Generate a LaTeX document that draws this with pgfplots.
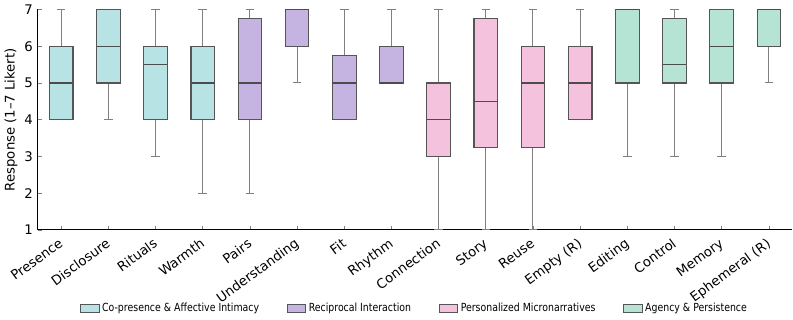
\documentclass[border=0pt]{standalone}
\usepackage{fontspec}
\setmainfont{DejaVu Sans}
\newfontfamily\condfont[FakeStretch=0.84]{DejaVu Sans}
\usepackage{pgfplots}
\pgfplotsset{compat=1.18}
\usepgfplotslibrary{statistics}

\definecolor{cIntim}{HTML}{B8E3E4}
\definecolor{cRecip}{HTML}{C5B3E1}
\definecolor{cMicro}{HTML}{F5C2DD}
\definecolor{cAgency}{HTML}{B5E3D4}
\definecolor{boxedge}{HTML}{555555}
\definecolor{whisk}{HTML}{808080}

% #1 position, #2 colour, #3 lower whisker, #4 q1, #5 median, #6 q3, #7 upper whisker
\newcommand{\bx}[7]{%
  \addplot[forget plot, fill=#2, draw=boxedge, line width=0.8pt,
    boxplot/draw direction=y,
    boxplot prepared={draw position=#1,
      lower whisker=#3, lower quartile=#4, median=#5,
      upper quartile=#6, upper whisker=#7,
      box extend=0.5, whisker extend=0.18,
      every whisker/.style={draw=whisk, line width=0.7pt},
      every median/.style={draw=boxedge!90!black, line width=0.8pt}}]
    coordinates {};}

\begin{document}
\begin{tikzpicture}
\begin{axis}[
    scale only axis,
    width=541pt, height=158pt,
    xmin=0.5, xmax=16.5, ymin=1, ymax=7,
    axis x line*=bottom, axis y line*=left,
    axis line style={-, line width=0.8pt, black},
    xtick={1,...,16}, ytick={1,...,7},
    xticklabels={Presence, Disclosure, Rituals, Warmth, Pairs, Understanding,
      Fit, Rhythm, Connection, Story, Reuse, Empty (R), Editing, Control,
      Memory, Ephemeral (R)},
    x tick label style={rotate=36, anchor=north east, inner sep=1pt,
      xshift=-4pt, yshift=-2pt, font=\fontsize{9.5}{11}\selectfont},
    y tick label style={font=\fontsize{9.5}{11}\selectfont},
    /pgf/number format/assume math mode=true,
    tick align=inside, major tick length=3pt,
    tick style={draw=black!50, line width=0.5pt},
    ylabel={Response (1–7 Likert)},
    ylabel style={font=\fontsize{9.5}{11}\selectfont, yshift=-2pt},
    legend columns=4,
    legend style={at={(0.5,-0.355)}, anchor=center, draw=none, fill=none,
      font=\condfont\fontsize{8}{9}\selectfont,
      /tikz/every even column/.append style={column sep=18pt}},
    legend cell align=left,
    legend image code/.code={\draw[#1] (0pt,-2.8pt) rectangle (13pt,2.8pt);},
]
\bx{1}{cIntim}{4}{4}{5}{6}{7}
\bx{2}{cIntim}{4}{5}{6}{7}{7}
\bx{3}{cIntim}{3}{4}{5.5}{6}{7}
\bx{4}{cIntim}{2}{4}{5}{6}{7}
\bx{5}{cRecip}{2}{4}{5}{6.75}{7}
\bx{6}{cRecip}{5}{6}{7}{7}{7}
\bx{7}{cRecip}{4}{4}{5}{5.75}{7}
\bx{8}{cRecip}{5}{5}{5}{6}{7}
\bx{9}{cMicro}{1}{3}{4}{5}{7}
\bx{10}{cMicro}{1}{3.25}{4.5}{6.75}{7}
\bx{11}{cMicro}{1}{3.25}{5}{6}{7}
\bx{12}{cMicro}{4}{4}{5}{6}{7}
\bx{13}{cAgency}{3}{5}{7}{7}{7}
\bx{14}{cAgency}{3}{5}{5.5}{6.75}{7}
\bx{15}{cAgency}{3}{5}{6}{7}{7}
\bx{16}{cAgency}{5}{6}{7}{7}{7}
\addlegendimage{fill=cIntim, draw=boxedge, line width=0.6pt}
\addlegendentry{Co-presence \& Affective Intimacy}
\addlegendimage{fill=cRecip, draw=boxedge, line width=0.6pt}
\addlegendentry{Reciprocal Interaction}
\addlegendimage{fill=cMicro, draw=boxedge, line width=0.6pt}
\addlegendentry{Personalized Micronarratives}
\addlegendimage{fill=cAgency, draw=boxedge, line width=0.6pt}
\addlegendentry{Agency \& Persistence}
\end{axis}
\end{tikzpicture}
\end{document}
